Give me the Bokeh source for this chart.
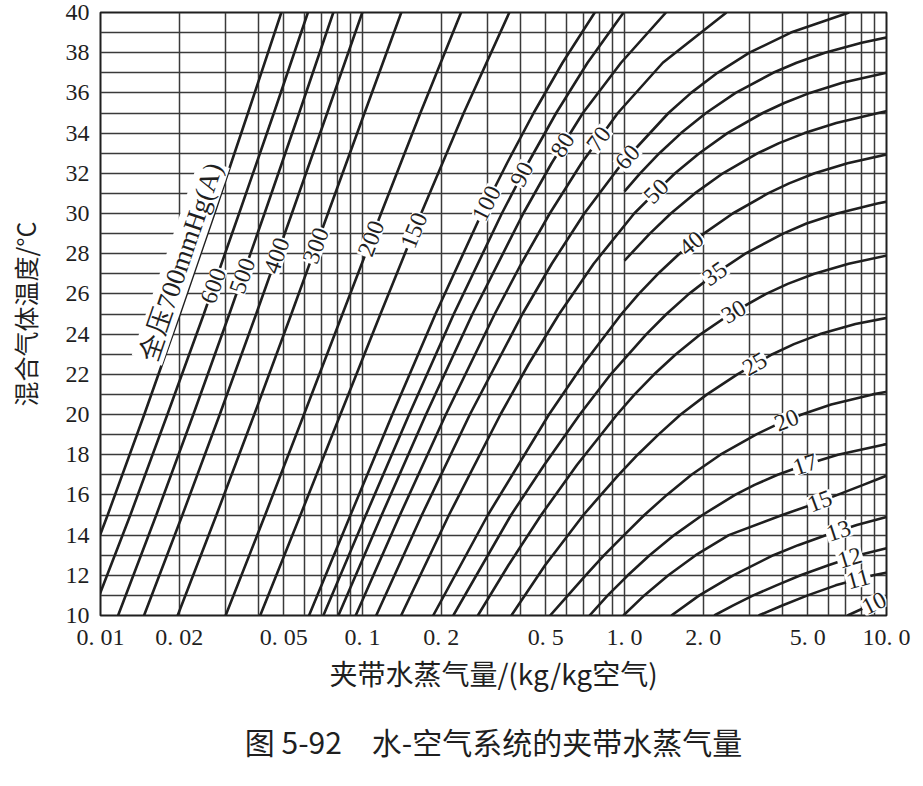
import math
import json
import numpy as np
from bokeh.plotting import figure
from bokeh.models import FixedTicker, CustomJSTickFormatter, Label, Title, Range1d
from bokeh.embed import file_html
from bokeh.resources import INLINE

# ---------------- data ----------------
# temperatures (degC) and entrained vapour (kg/kg air) along each total-pressure curve
T_HIGH = [10, 15, 20, 25, 30, 35, 40]
X_700 = [0.00763, 0.01065, 0.01469, 0.02007, 0.02718, 0.03655, 0.04900]
X_600 = [0.00924, 0.0130, 0.0180, 0.0248, 0.0338, 0.0459, 0.0619]
X_500 = [0.01167, 0.01633, 0.02261, 0.03103, 0.04227, 0.05731, 0.07738]
X_400 = [0.01466, 0.02054, 0.02852, 0.03928, 0.05375, 0.07333, 0.09982]
X_300 = [0.0197, 0.0277, 0.03862, 0.05351, 0.0738, 0.1018, 0.1406]
X_200 = [0.03003, 0.0425, 0.05978, 0.08388, 0.1177, 0.1663, 0.2378]
X_150 = [0.04069, 0.05798, 0.08234, 0.1171, 0.1674, 0.2434, 0.3634]

T_MID = [10, 15, 20, 25, 30, 32.5, 35, 37.5, 40]
X_100 = [0.0625, 0.0900, 0.1300, 0.1900, 0.2850, 0.3560, 0.4500, 0.5800, 0.7701]
X_90 = [0.0709, 0.1030, 0.1506, 0.2231, 0.3402, 0.4281, 0.5486, 0.7227, 0.9922]
X_80 = [0.0809, 0.1184, 0.1747, 0.2628, 0.4108, 0.5269, 0.6937, 0.97, 1.44]

T_70 = [10, 15, 20, 25, 27.5, 30, 32.5, 35, 37.5, 40]
X_70 = [0.0942, 0.1390, 0.2080, 0.3196, 0.4034, 0.5184, 0.6851, 0.9431, 1.40, 2.45]

T_60 = [10, 15, 20, 25, 27.5, 30, 32.5, 35, 36, 37, 38, 39, 40]
X_60 = [0.1128, 0.1685, 0.2569, 0.4078, 0.5277, 0.7023, 0.979, 1.472, 1.795, 2.264, 2.998, 4.315, 7.2]

T_55 = [31.1, 32, 33, 34, 35, 36, 37, 37.5, 38, 38.5, 38.8]
X_55 = [1.0, 1.147, 1.359, 1.644, 2.047, 2.655, 3.692, 4.538, 5.82, 8.04, 10.4]

T_50 = [10, 15, 20, 22.5, 25, 27.5, 30, 31, 32, 33, 34, 35, 35.5, 36, 36.5, 37, 37.2]
X_50 = [0.1404, 0.2138, 0.3361, 0.4301, 0.5632, 0.7627, 1.0887, 1.30, 1.56, 1.93, 2.47,
        3.37, 4.07, 5.10, 6.78, 9.99, 12.3]

T_45 = [27.66, 28, 29, 30, 31, 32, 33, 33.5, 34, 34.5, 35, 35.1]
X_45 = [1.0, 1.059, 1.249, 1.502, 1.855, 2.375, 3.228, 3.89, 4.866, 6.43, 9.30, 10.1]

T_40 = [10, 15, 20, 22.5, 25, 26, 27, 28, 29, 30, 31, 31.5, 32, 32.5, 33]
X_40 = [0.1861, 0.301, 0.515, 0.696, 0.974, 1.134, 1.342, 1.62, 2.007, 2.589, 3.527,
        4.248, 5.315, 7.10, 10.55]

T_35 = [10, 15, 17.5, 20, 22, 24, 25, 26, 27, 28, 29, 29.5, 30, 30.5, 30.7]
X_35 = [0.2221, 0.369, 0.4945, 0.675, 0.886, 1.213, 1.447, 1.762, 2.215, 2.891, 4.031,
        4.95, 6.473, 9.23, 11.2]

T_30 = [10, 12.5, 15, 17.5, 20, 21, 22, 23, 24, 25, 26, 26.5, 27, 27.5, 28]
X_30 = [0.2756, 0.3605, 0.4807, 0.6593, 0.9369, 1.0935, 1.298, 1.571, 1.955, 2.534, 3.47,
        4.197, 5.306, 7.17, 10.8]

T_25 = [10, 12.5, 15, 16, 17, 18, 19, 20, 21, 22, 23, 23.5, 24, 24.5, 25]
X_25 = [0.37, 0.4976, 0.697, 0.8128, 0.9495, 1.1228, 1.347, 1.638, 2.065, 2.696, 3.669,
        4.433, 5.579, 7.61, 11.92]

T_20 = [10, 11, 12, 13, 14, 15, 16, 17, 18, 19, 19.5, 20, 20.5, 21, 21.3]
X_20 = [0.52, 0.6084, 0.7107, 0.8363, 0.9962, 1.191, 1.451, 1.801, 2.322, 3.174, 3.807,
        4.745, 6.15, 8.85, 11.8]

T_17 = [10, 11, 12, 13, 14, 15, 16, 16.5, 17, 17.5, 18, 18.5, 18.7]
X_17 = [0.7354, 0.863, 1.03, 1.247, 1.548, 1.984, 2.642, 3.136, 3.842, 4.898, 6.525, 9.74, 12.4]

T_15 = [10, 11, 12, 13, 14, 15, 15.5, 16, 16.5, 17, 17.1]
X_15 = [0.99, 1.19, 1.47, 1.87, 2.5, 4.0, 5.15, 6.5, 8.15, 10.2, 10.8]

T_13 = [10, 11, 12, 13, 13.5, 14, 14.5, 14.9]
X_13 = [1.51, 1.93, 2.6, 3.7, 4.6, 5.9, 7.7, 10.0]

T_12 = [10, 10.5, 11, 11.5, 12, 12.5, 13, 13.35]
X_12 = [2.2, 2.6, 3.1, 3.8, 4.7, 6.0, 7.8, 10.0]

T_11 = [10, 10.5, 11, 11.5, 12, 12.15]
X_11 = [3.25, 4.0, 5.0, 6.4, 8.9, 10.2]

T_10 = [10, 10.5, 10.9]
X_10 = [7.1, 8.6, 10.2]

CURVE_NAMES = ["700", "600", "500", "400", "300", "200", "150", "100", "90", "80", "70",
               "60", "55", "50", "45", "40", "35", "30", "25", "20", "17", "15", "13", "12",
               "11", "10"]

XTICKS = [0.01, 0.02, 0.05, 0.1, 0.2, 0.5, 1.0, 2.0, 5.0, 10.0]
XTICK_LABELS = ["0. 01", "0. 02", "0. 05", "0. 1", "0. 2", "0. 5", "1. 0", "2. 0", "5. 0", "10. 0"]
YTICKS = list(range(10, 41, 2))

X_TITLE = "夹带水蒸气量/(kg/kg空气)"
Y_TITLE = "混合气体温度/°C"
CAPTION = "图 5-92\u3000水-空气系统的夹带水蒸气量"

# ---------------- styling ----------------
# temperature at which each curve label sits
LABEL_AT = {"700": 27.6, "600": 26.4, "500": 26.9, "400": 27.9, "300": 28.4, "200": 28.75,
            "150": 29.15, "100": 30.5, "90": 31.95, "80": 33.4, "70": 33.7, "60": 32.8,
            "50": 31.1, "40": 28.5, "35": 27.0, "30": 25.1, "25": 22.5, "20": 19.7,
            "17": 17.5, "15": 15.67, "13": 14.2, "12": 12.86, "11": 11.8, "10": 10.6}
LABEL_TEXT = {"700": "全压700mmHg(A)"}
LABEL_SIZE = {"700": "27px"}

W, H = 923, 786
LEFT, RIGHT, TOP, BOTTOM = 100, 37, 12, 171
INK = "#1f1f1f"
GRID = "#3a3a3a"
SERIF = "Liberation Serif"
CJK = "Noto Sans CJK SC"

curves = []
g = globals()
for name in CURVE_NAMES:
    xs = g["X_" + name]
    if "T_" + name in g:
        ts = g["T_" + name]
    elif len(xs) == len(T_HIGH):
        ts = T_HIGH
    else:
        ts = T_MID
    curves.append((name, ts, xs))

p = figure(width=W, height=H, x_axis_type="log",
           x_range=Range1d(0.01, 10.0), y_range=Range1d(10, 40),
           output_backend="svg", toolbar_location=None,
           min_border_left=LEFT, min_border_right=RIGHT,
           min_border_top=TOP, min_border_bottom=BOTTOM,
           background_fill_color="white", border_fill_color="white")

p.outline_line_color = INK
p.outline_line_width = 2

# grids
xgrid_vals = [m * 10.0 ** e for e in (-2, -1, 0) for m in range(1, 10)] + [10.0]
p.xgrid.ticker = FixedTicker(ticks=xgrid_vals)
p.ygrid.ticker = FixedTicker(ticks=list(range(10, 41)))
for gr in (p.xgrid, p.ygrid):
    gr.grid_line_color = GRID
    gr.grid_line_width = 1.5
    gr.grid_line_alpha = 1.0

# axes
fmt_code = ("const t = %s; const l = %s;"
            "for (let i = 0; i < t.length; i++) {"
            "  if (Math.abs(tick / t[i] - 1) < 1e-6) { return l[i]; }"
            "} return '';") % (json.dumps(XTICKS), json.dumps(XTICK_LABELS))
p.xaxis.ticker = FixedTicker(ticks=XTICKS)
p.xaxis.formatter = CustomJSTickFormatter(code=fmt_code)
p.yaxis.ticker = FixedTicker(ticks=YTICKS)
for ax in (p.xaxis, p.yaxis):
    ax.axis_line_color = None
    ax.major_tick_line_color = None
    ax.minor_tick_line_color = None
    ax.major_label_text_font = SERIF
    ax.major_label_text_font_size = "24px"
    ax.major_label_text_color = INK
    ax.axis_label_text_font = CJK
    ax.axis_label_text_font_style = "normal"
    ax.axis_label_text_color = INK
p.xaxis.axis_label_text_font_size = "28px"
p.yaxis.axis_label_text_font_size = "25px"
p.xaxis.major_label_standoff = 2
p.yaxis.major_label_standoff = 5
p.xaxis.axis_label = X_TITLE
p.xaxis.axis_label_standoff = 0
p.yaxis.axis_label = Y_TITLE
p.yaxis.axis_label_standoff = 20

# curves
for name, ts, xs in curves:
    p.line(xs, ts, line_color=INK, line_width=2.6)

# curve labels, rotated along the local slope of their curve
frame_w = W - LEFT - RIGHT
frame_h = H - TOP - BOTTOM
SX = frame_w / 3.0      # px per decade
SY = frame_h / 30.0     # px per degC
for name, ts, xs in curves:
    if name not in LABEL_AT:
        continue
    t0 = LABEL_AT[name]
    lg = np.log10(xs)
    lx = float(np.interp(t0, ts, lg))
    d = 0.4
    l1 = float(np.interp(t0 - d, ts, lg))
    l2 = float(np.interp(t0 + d, ts, lg))
    ang = math.atan2(SY * 2 * d, SX * (l2 - l1))
    txt = LABEL_TEXT.get(name, name)
    off = -17 if name == "700" else 0
    p.add_layout(Label(x=10 ** lx, y=t0, text=txt, angle=ang, x_offset=off,
                       text_align="center", text_baseline="middle",
                       text_font=SERIF, text_font_size=LABEL_SIZE.get(name, "24px"),
                       text_color=INK,
                       background_fill_color="white", background_fill_alpha=1.0,
                       padding=1))

cap = Title(text=CAPTION, align="center", text_font=CJK, text_font_size="30px",
            text_font_style="normal", text_color=INK, standoff=43, offset=-35)
p.add_layout(cap, "below")

open("out.html", "w").write(file_html(p, INLINE))
